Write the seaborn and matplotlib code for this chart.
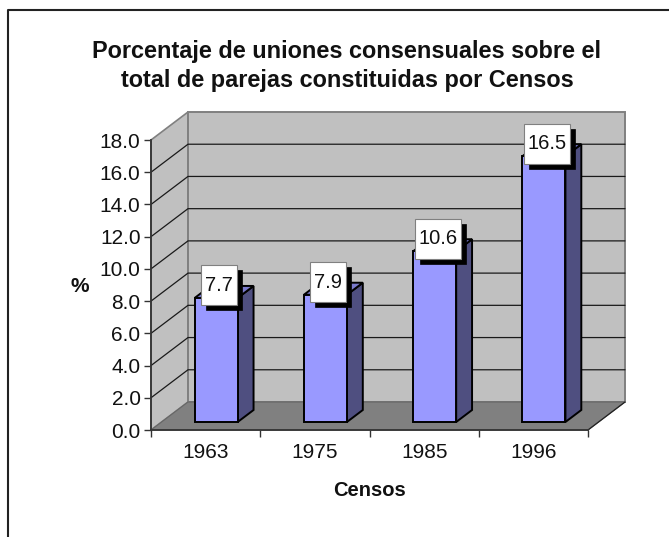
import pandas as pd
import matplotlib
matplotlib.use("Agg")
import matplotlib.pyplot as plt
import seaborn as sns
from matplotlib.lines import Line2D
from matplotlib.patches import Polygon, Rectangle
from matplotlib.transforms import Affine2D

censos = ["1963", "1975", "1985", "1996"]
porcentajes = [7.7, 7.9, 10.6, 16.5]
etiquetas = ["7.7", "7.9", "10.6", "16.5"]
y_ticks = [0, 2, 4, 6, 8, 10, 12, 14, 16, 18]

titulo = "Porcentaje de uniones consensuales sobre el\ntotal de parejas constituidas por Censos"

W, H = 669, 537
AX_L, AX_R, AX_B, AX_T = 151, 588, 430, 140
PX_X = 4 / (AX_R - AX_L)   # data units per pixel
PX_Y = 18 / (AX_B - AX_T)
DEPTH_X = 37 * PX_X        # full depth of the fake 3d box
DEPTH_Y = 28 * PX_Y
BAR_W = 43 * PX_X
BAR_FRONT = 8 / 28         # bars start this far into the box
BAR_BACK = 20 / 28


def depth(x, y, d):
    return (x + d * DEPTH_X, y + d * DEPTH_Y)


sns.set_theme(style="white")
plt.rcParams["font.family"] = ["Liberation Sans", "DejaVu Sans"]

fig = plt.figure(figsize=(W / 100, H / 100), dpi=100, facecolor="white")
ax = fig.add_axes([AX_L / W, (H - AX_B) / H, (AX_R - AX_L) / W, (AX_B - AX_T) / H])

df = pd.DataFrame({"censo": censos, "pct": porcentajes})
sns.barplot(data=df, x="censo", y="pct", color="#9999FF", saturation=1, width=BAR_W,
            edgecolor="black", linewidth=1.4, ax=ax, zorder=5)
ax.set_xlim(-0.5, 3.5)
ax.set_ylim(0, 18)

# walls and floor
x0, x1 = -0.5, 3.5
ax.add_patch(Polygon([depth(x0, 0, 0), depth(x0, 0, 1), depth(x0, 18, 1), depth(x0, 18, 0)],
                     fc="#C0C0C0", ec="#808080", lw=1.2, clip_on=False, zorder=1))
ax.add_patch(Polygon([depth(x0, 0, 1), depth(x1, 0, 1), depth(x1, 18, 1), depth(x0, 18, 1)],
                     fc="#C0C0C0", ec="#808080", lw=1.4, clip_on=False, zorder=1))
ax.add_patch(Polygon([depth(x0, 0, 0), depth(x1, 0, 0), depth(x1, 0, 1), depth(x0, 0, 1)],
                     fc="#808080", ec="#666666", lw=0.8, clip_on=False, zorder=2))

# gridlines
for t in y_ticks[1:-1]:
    a, b, c = depth(x0, t, 0), depth(x0, t, 1), depth(x1, t, 1)
    ax.plot([a[0], b[0], c[0]], [a[1], b[1], c[1]], color="#1A1A1A", lw=0.9,
            clip_on=False, zorder=3)

# bars: front faces come from seaborn, moved into the box
for patch in ax.patches:
    if patch.get_zorder() == 5:
        dx, dy = depth(0, 0, BAR_FRONT)
        patch.set_transform(Affine2D().translate(dx, dy) + ax.transData)
        patch.set_clip_on(False)

for i, v in enumerate(porcentajes):
    left, right = i - BAR_W / 2, i + BAR_W / 2
    side = [depth(right, 0, BAR_FRONT), depth(right, 0, BAR_BACK),
            depth(right, v, BAR_BACK), depth(right, v, BAR_FRONT)]
    top = [depth(left, v, BAR_FRONT), depth(right, v, BAR_FRONT),
           depth(right, v, BAR_BACK), depth(left, v, BAR_BACK)]
    ax.add_patch(Polygon(side, fc="#4F4F80", ec="black", lw=1.4, clip_on=False, zorder=4))
    ax.add_patch(Polygon(top, fc="#7A7ACC", ec="black", lw=1.4, clip_on=False, zorder=4))

# data labels with hard shadow
for i, (v, lab) in enumerate(zip(porcentajes, etiquetas)):
    cx, cy = depth(i, v, BAR_FRONT)
    cx += 3 * PX_X
    cy += 12.5 * PX_Y
    bw = (36 if len(lab) == 3 else 46) * PX_X
    bh = 40 * PX_Y
    ax.add_patch(Rectangle((cx - bw / 2 + 5 * PX_X, cy - bh / 2 - 5 * PX_Y), bw, bh,
                           fc="black", ec="black", lw=0.5, clip_on=False, zorder=6))
    ax.add_patch(Rectangle((cx - bw / 2, cy - bh / 2), bw, bh,
                           fc="white", ec="#808080", lw=0.8, clip_on=False, zorder=7))
    ax.text(cx, cy, lab, ha="center", va="center", fontsize=14.5, color="#111111", zorder=8)

# axes
for name in ["top", "right"]:
    ax.spines[name].set_visible(False)
for name in ["left", "bottom"]:
    ax.spines[name].set_visible(True)
    ax.spines[name].set_color("#333333")
    ax.spines[name].set_linewidth(1.3)
    ax.spines[name].set_zorder(4)

ax.set_yticks(y_ticks)
ax.set_yticklabels([f"{t:.1f}" for t in y_ticks], fontsize=15, color="#111111")
ax.set_xticks(range(len(censos)))
ax.set_xticklabels(censos, fontsize=15, color="#111111")
ax.set_xticks([-0.5, 0.5, 1.5, 2.5, 3.5], minor=True)
ax.tick_params(axis="x", which="major", length=0, pad=9.5)
ax.tick_params(axis="x", which="minor", length=5, width=1, color="#333333", bottom=True)
ax.tick_params(axis="y", which="major", length=5, width=1, color="#333333", left=True, pad=2.5)
ax.set_xlabel("")
ax.set_ylabel("")

# right corner diagonal of the floor
a, b = depth(x1, 0, 0), depth(x1, 0, 1)
ax.plot([a[0], b[0]], [a[1], b[1]], color="#222222", lw=0.9, clip_on=False, zorder=3)

# title and axis titles
fig.text(347 / W, 1 - 66 / H, titulo, ha="center", va="center", fontsize=16.9, fontweight="bold",
         color="#111111", linespacing=1.3)
fig.text(369 / W, 1 - 491 / H, "Censos", ha="center", va="center", fontsize=14.5,
         fontweight="bold", color="#111111")
fig.text(80 / W, 1 - 287 / H, "%", ha="center", va="center", fontsize=15, fontweight="bold",
         color="#111111")

# chart border, cut by the image on the right and bottom
fig.add_artist(Line2D([8 / W, 8 / W, 1], [0, 1 - 10 / H, 1 - 10 / H], color="#222222", lw=1.5))

fig.savefig("out.png", dpi=100)
plt.close(fig)
